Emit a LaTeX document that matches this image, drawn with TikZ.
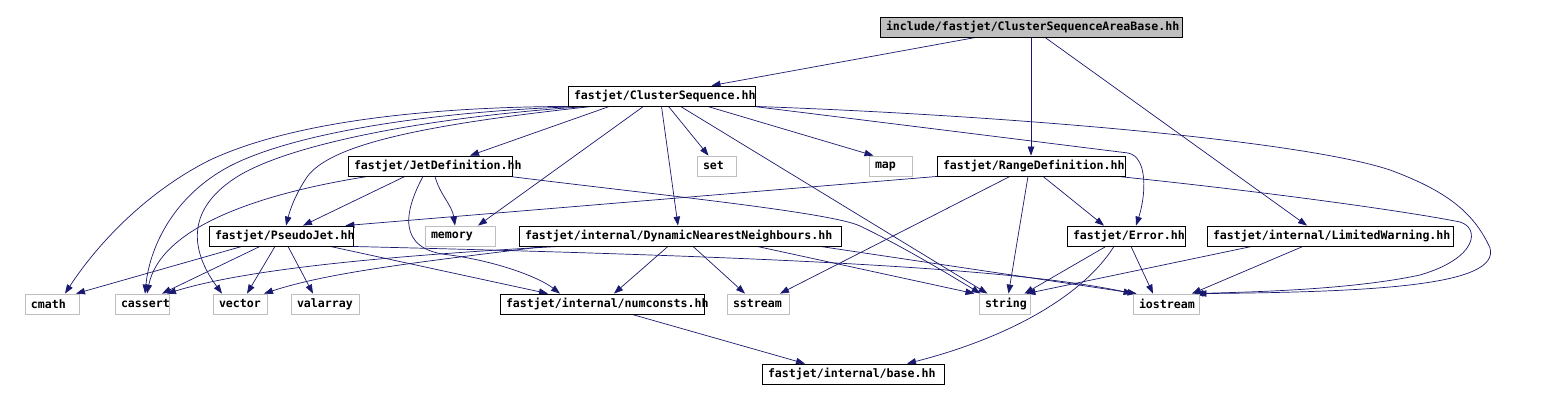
\documentclass[tikz,border=0pt]{standalone}
\usepackage{fontspec}
\setmonofont{DejaVu Sans Mono}
\usetikzlibrary{arrows.meta,backgrounds}
\definecolor{edgeblue}{HTML}{191970}
\definecolor{grayline}{HTML}{BFBFBF}
% name, style, cx, cy, width, text  (text left aligned 6pt from the left edge, may overflow)
\newcommand\fjnode[6]{%
  \node[#2, minimum width=#5pt] (#1) at (#3,#4)
    {\makebox[0pt][l]{\hspace*{-\dimexpr #5pt/2-6pt\relax}#6}};}
\begin{document}
\begin{tikzpicture}[x=1pt,y=-1pt,
  box/.style={draw, line width=0.8pt, inner sep=0pt, minimum height=20pt,
    font=\fontsize{11.6}{14}\selectfont\ttfamily\bfseries},
  doc/.style={box, draw=black, fill=white},
  sys/.style={box, draw=grayline, fill=white},
  cur/.style={box, draw=black, fill=grayline},
  dep/.style={draw=edgeblue, line width=0.7pt, -{Triangle[length=9pt,width=6.5pt]}}
]
\useasboundingbox (0,0) rectangle (1558,401);

% nodes
\fjnode{top}{cur}{1031}{27}{302}{include/fastjet/ClusterSequenceAreaBase.hh}
\fjnode{cs}{doc}{661.5}{96}{187}{fastjet/ClusterSequence.hh}
\fjnode{jd}{doc}{430}{166}{164}{fastjet/JetDefinition.hh}
\fjnode{set}{sys}{716.5}{166}{39}{set}
\fjnode{map}{sys}{890.5}{166}{43}{map}
\fjnode{rd}{doc}{1031}{166}{188}{fastjet/RangeDefinition.hh}
\fjnode{pj}{doc}{281}{236}{144}{fastjet/PseudoJet.hh}
\fjnode{mem}{sys}{460}{236}{70}{memory}
\fjnode{dnn}{doc}{680}{236}{322}{fastjet/internal/DynamicNearestNeighbours.hh}
\fjnode{err}{doc}{1126}{236}{118}{fastjet/Error.hh}
\fjnode{lw}{doc}{1330}{236}{246}{fastjet/internal/LimitedWarning.hh}
\fjnode{cmath}{sys}{52}{304}{54}{cmath}
\fjnode{cas}{sys}{142}{304}{54}{cassert}
\fjnode{vec}{sys}{240}{304}{54}{vector}
\fjnode{val}{sys}{325}{304}{68}{valarray}
\fjnode{num}{doc}{602}{304}{204}{fastjet/internal/numconsts.hh}
\fjnode{sst}{sys}{758}{304}{62}{sstream}
\fjnode{str}{sys}{1004.5}{304}{51}{string}
\fjnode{ios}{sys}{1166}{304}{66}{iostream}
\fjnode{base}{doc}{853}{374}{182}{fastjet/internal/base.hh}

\begin{scope}[on background layer]
\fill[white] (0,0) rectangle (1558,401);
% top
\draw[dep] ([xshift=-55pt]top.south) -- ([xshift=50pt]cs.north);
\draw[dep] (top.south) -- (rd.north);
\draw[dep] ([xshift=14pt]top.south) -- ([xshift=-23pt]lw.north);
% ClusterSequence
\draw[dep] ([xshift=-52pt]cs.south) -- ([xshift=40pt]jd.north);
\draw[dep] ([xshift=7pt]cs.south) -- ([xshift=-8pt]set.north);
\draw[dep] ([xshift=46pt]cs.south) -- ([xshift=-17pt]map.north);
\draw[dep] ([xshift=-18pt]cs.south) -- ([xshift=18pt]mem.north);
\draw[dep] (cs.south) -- ([xshift=-2pt]dnn.north);
\draw[dep] ([xshift=19pt]cs.south) -- ([xshift=-17pt]str.north);
\draw[dep] ([xshift=-2pt]cs.south east) -- (1128,153) .. controls (1148,157) and (1146,195) .. ([xshift=10pt]err.north);
\draw[dep] ([xshift=-1pt]cs.south east) .. controls (1000,115) and (1300,140) .. (1390,170)
  .. controls (1450,192) and (1475,215) .. (1490,248)
  .. controls (1500,285) and (1380,292) .. ([xshift=-2pt]ios.north east);
\draw[dep] ([xshift=25pt]cs.south west) .. controls (420,125) and (330,145) .. (307,177)
  .. controls (295,195) and (290,210) .. ([xshift=5pt]pj.north);
\draw[dep] ([xshift=16pt]cs.south west) .. controls (450,106) and (300,118) .. (210,160)
  .. controls (150,190) and (100,240) .. ([xshift=13pt]cmath.north);
\draw[dep] ([xshift=19pt]cs.south west) .. controls (450,110) and (300,130) .. (230,166)
  .. controls (175,195) and (150,245) .. ([xshift=3pt]cas.north);
\draw[dep] ([xshift=22pt]cs.south west) .. controls (450,115) and (300,140) .. (240,175)
  .. controls (185,208) and (190,250) .. ([xshift=-18pt]vec.north);
% JetDefinition
\draw[dep] ([xshift=-25pt]jd.south) -- ([xshift=22pt]pj.north);
\draw[dep] ([xshift=-62pt]jd.south) .. controls (250,195) and (160,230) .. ([xshift=5pt]cas.north);
\draw[dep] ([xshift=5pt]jd.south) .. controls (440,195) and (452,205) .. ([xshift=-5pt]mem.north);
\draw[dep] ([xshift=-7pt]jd.south) .. controls (405,210) and (395,250) .. (450,255)
  .. controls (500,262) and (540,278) .. ([xshift=-42pt]num.north);
\draw[dep] ([xshift=-3pt]jd.south east) .. controls (650,194) and (830,212) .. (860,226)
  .. controls (900,245) and (950,275) .. ([xshift=-24pt]str.north);
% RangeDefinition
\draw[dep] ([xshift=1pt]rd.south west) -- ([xshift=-8pt]pj.north east);
\draw[dep] ([xshift=-21pt]rd.south) -- ([xshift=22pt]sst.north);
\draw[dep] ([xshift=-3pt]rd.south) -- ([xshift=4pt]str.north);
\draw[dep] ([xshift=12pt]rd.south) -- ([xshift=-22pt]err.north);
\draw[dep] ([xshift=-8pt]rd.south east) .. controls (1250,190) and (1400,210) .. (1460,222)
  .. controls (1480,228) and (1478,258) .. (1420,275)
  .. controls (1350,290) and (1250,292) .. ([xshift=-5pt]ios.north east);
% PseudoJet
\draw[dep] ([xshift=-39pt]pj.south) -- ([xshift=24pt]cmath.north);
\draw[dep] ([xshift=-21pt]pj.south) -- ([xshift=20pt]cas.north);
\draw[dep] ([xshift=-6pt]pj.south) -- ([xshift=7pt]vec.north);
\draw[dep] ([xshift=7pt]pj.south) -- ([xshift=-12pt]val.north);
\draw[dep] ([xshift=49pt]pj.south) -- ([xshift=-54pt]num.north);
\draw[dep] ([xshift=-3pt]pj.south east) .. controls (700,255) and (1000,265) .. (ios.north west);
% DynamicNearestNeighbours
\draw[dep] ([xshift=-120pt]dnn.south) .. controls (400,255) and (250,268) .. ([xshift=25pt]cas.north);
\draw[dep] ([xshift=-135pt]dnn.south) .. controls (420,262) and (330,272) .. ([xshift=24pt]vec.north);
\draw[dep] ([xshift=-12pt]dnn.south) -- ([xshift=12pt]num.north);
\draw[dep] ([xshift=13pt]dnn.south) -- ([xshift=-13pt]sst.north);
\draw[dep] ([xshift=77pt]dnn.south) -- ([xshift=-30pt]str.north);
\draw[dep] ([xshift=140pt]dnn.south) -- ([xshift=4pt]ios.north west);
% Error
\draw[dep] ([xshift=-20pt]err.south) -- ([xshift=20pt]str.north);
\draw[dep] ([xshift=-12pt]err.south) .. controls (1080,300) and (1000,340) .. ([xshift=54pt]base.north);
\draw[dep] ([xshift=5pt]err.south) -- ([xshift=-13pt]ios.north);
% LimitedWarning
\draw[dep] ([xshift=-78pt]lw.south) -- ([xshift=-4pt]str.north east);
\draw[dep] ([xshift=-27pt]lw.south) -- ([xshift=26pt]ios.north);
% numconsts
\draw[dep] ([xshift=30pt]num.south) -- ([xshift=-48pt]base.north);
\end{scope}
\end{tikzpicture}
\end{document}
